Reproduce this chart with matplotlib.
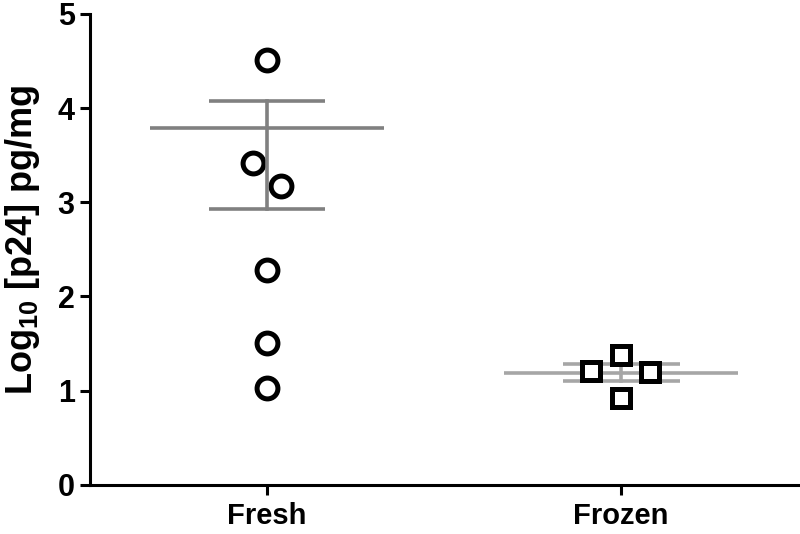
import numpy as np
import matplotlib
matplotlib.use('Agg')
import matplotlib.pyplot as plt

plt.rcParams['font.family'] = ['Liberation Sans', 'DejaVu Sans']
plt.rcParams['mathtext.fontset'] = 'custom'
plt.rcParams['mathtext.rm'] = 'Liberation Sans:bold'
plt.rcParams['mathtext.bf'] = 'Liberation Sans:bold'

groups = ['Fresh', 'Frozen']

# individual values (log10 pg/mg) and small horizontal offsets of overlapping points
fresh_vals = [4.51, 3.42, 3.17, 2.28, 1.51, 1.03]
fresh_dx = [0.0, -0.04, 0.04, 0.0, 0.0, 0.0]
frozen_vals = [1.38, 1.21, 1.20, 0.92]
frozen_dx = [0.0, -0.085, 0.08, 0.0]

# summary line and error bars
centre = [3.79, 1.19]
err_hi = [4.07, 1.28]
err_lo = [2.93, 1.10]

fig = plt.figure(figsize=(8, 5.34), dpi=100)
ax = fig.add_axes([0.1125, 0.092, 0.8875, 0.882])

# Fresh circles
ax.plot(np.array(fresh_dx) + 0, fresh_vals, 'o', ms=15, mfc='white', mec='black', mew=3.6,
        linestyle='none', zorder=3)

greys = ['#808080', '#a6a6a6']
for i in range(2):
    z = 4 if i == 0 else 2
    ax.plot([i - 0.33, i + 0.33], [centre[i]] * 2, color=greys[i], lw=2.6, zorder=z,
            solid_capstyle='butt')
    ax.plot([i, i], [err_lo[i], err_hi[i]], color=greys[i], lw=2.6, zorder=z)
    ax.plot([i - 0.165, i + 0.165], [err_hi[i]] * 2, color=greys[i], lw=2.6, zorder=z,
            solid_capstyle='butt')
    ax.plot([i - 0.165, i + 0.165], [err_lo[i]] * 2, color=greys[i], lw=2.6, zorder=z,
            solid_capstyle='butt')

ax.plot(np.array(frozen_dx) + 1, frozen_vals, 's', ms=13, mfc='white', mec='black', mew=3.6,
        linestyle='none', zorder=3)

ax.set_xlim(-0.5, 1.505)
ax.set_ylim(0, 5)
ax.set_xticks([0, 1])
ax.set_xticklabels(groups)
ax.set_yticks([0, 1, 2, 3, 4, 5])

for s in ['top', 'right']:
    ax.spines[s].set_visible(False)
for s in ['left', 'bottom']:
    ax.spines[s].set_linewidth(2.2)
ax.tick_params(width=2.2, length=7, labelsize=22, pad=4)
ax.tick_params(axis='x', labelsize=21, pad=5)
for lab in ax.get_xticklabels() + ax.get_yticklabels():
    lab.set_fontweight('bold')

ax.set_ylabel('Log$_{10}$ [p24] pg/mg', fontsize=26, fontweight='bold')
ax.yaxis.set_label_coords(-0.067, 0.52)

fig.savefig('out.png', dpi=100)
